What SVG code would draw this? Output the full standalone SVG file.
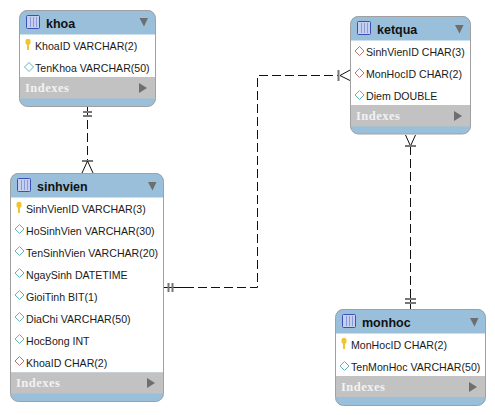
<svg xmlns="http://www.w3.org/2000/svg" width="495" height="415" viewBox="0 0 495 415">
<style>
text{font-family:"Liberation Sans",Arial,sans-serif;font-size:10.600px;fill:#1a1a1a}
.t{font-size:12.500px;font-weight:bold;fill:#111}
.i{font-family:"Liberation Serif",serif;font-size:12.500px;font-weight:bold;fill:#f2f2f2;letter-spacing:.5px}
.card{fill:#99bfda}
.edge{fill:none;stroke:#a0a0a0;stroke-width:1}
.body{fill:#fff}
.idx{fill:#c2c2c2}
.ic{fill:#c4d0ee;stroke:#3b4fb5}
.tri{fill:#6e6e6e}
.d{fill:#fff;stroke:#63b5b5;stroke-width:1}
.r{fill:#fff;stroke:#b87474;stroke-width:1}
.k{fill:#f2c430}
.c{fill:none;stroke:#111;stroke-width:1}
.b{fill:none;stroke:#777;stroke-width:2}
.dash{stroke-dasharray:9 4}
</style>
<defs>
<g id="tbl"><rect x="0.5" y="0.5" width="13" height="13" rx="1" class="ic"/><path d="M4.500 2v10M7.500 2v10M10.500 2v10" stroke="#8a9ad8" fill="none"/></g>
<path id="dm" d="M0-4.500L4.500 0L0 4.500L-4.500 0Z"/>
<path id="key" d="M-1.500-6h3l1 1.500v3l-1.500 1.500v5h-2v-5l-1.500-1.500v-3Z"/>
</defs>
<g id="connectors">
<path class="c dash" d="M87.500 107V161"/>
<path class="b" d="M83 112H92M83 116H92M82 161H93"/>
<path class="c" d="M87.500 161L82 173M87.500 161L93 173"/>
<path class="c dash" d="M185 287.500H257.500V75.500H338"/>
<path class="c" d="M164 287.500H185M340 75.500L351 69.500M340 75.500L351 81"/>
<path class="b" d="M168.500 283V292M172.500 283V292M338.500 70V81"/>
<path class="c dash" d="M410.500 146V299"/>
<path class="c" d="M410.500 146L405.500 135M410.500 146L415.500 135M410.500 299V309"/>
<path class="b" d="M405 146H416M405 299H416M405 303H416"/>
</g>
<g id="khoa">
<rect class="card" x="19.500" y="10" width="136" height="96.500" rx="8"/>
<rect class="body" x="19.500" y="34.500" width="136" height="42.500"/>
<rect class="idx" x="19.500" y="77" width="136" height="21.500"/>
<rect class="edge" x="19.500" y="10.500" width="136" height="96" rx="8"/>
<use href="#tbl" x="26" y="15"/><text class="t" x="46" y="28">khoa</text>
<path class="tri" d="M139.500 18h8.500l-4 8.500Z"/>
<use href="#key" class="k" x="28" y="45"/><text x="35" y="50">KhoaID VARCHAR(2)</text>
<use href="#dm" class="d" x="29" y="67"/><text x="35" y="72">TenKhoa VARCHAR(50)</text>
<text class="i" x="25" y="92">Indexes</text><path class="tri" d="M139 83l8 5l-8 5Z"/>
</g>
<g id="ketqua">
<rect class="card" x="350.500" y="16" width="120" height="118" rx="8"/>
<rect class="body" x="350.500" y="40.500" width="120" height="64.500"/>
<rect class="idx" x="350.500" y="105" width="120" height="21.500"/>
<rect class="edge" x="350.500" y="16.500" width="120" height="117.500" rx="8"/>
<use href="#tbl" x="357" y="21"/><text class="t" x="377" y="34">ketqua</text>
<path class="tri" d="M455 25h8.500l-4 8.500Z"/>
<use href="#dm" class="r" x="359.500" y="51"/><text x="366" y="56">SinhVienID CHAR(3)</text>
<use href="#dm" class="r" x="359.500" y="73"/><text x="366" y="78">MonHocID CHAR(2)</text>
<use href="#dm" class="d" x="359.500" y="95"/><text x="366" y="100">Diem DOUBLE</text>
<text class="i" x="356" y="120">Indexes</text><path class="tri" d="M454 111l8 5l-8 5Z"/>
</g>
<g id="sinhvien">
<rect class="card" x="10.500" y="173" width="153" height="228.500" rx="8"/>
<rect class="body" x="10.500" y="197.500" width="153" height="175"/>
<rect class="idx" x="10.500" y="372.500" width="153" height="21"/>
<rect class="edge" x="10.500" y="173.500" width="153" height="228" rx="8"/>
<use href="#tbl" x="17" y="178"/><text class="t" x="37" y="191">sinhvien</text>
<path class="tri" d="M148 182h8.500l-4 8.500Z"/>
<use href="#key" class="k" x="19" y="208"/><text x="26" y="213">SinhVienID VARCHAR(3)</text>
<use href="#dm" class="d" x="19.500" y="229"/><text x="26" y="235">HoSinhVien VARCHAR(30)</text>
<use href="#dm" class="d" x="19.500" y="251"/><text x="26" y="257">TenSinhVien VARCHAR(20)</text>
<use href="#dm" class="d" x="19.500" y="273"/><text x="26" y="279">NgaySinh DATETIME</text>
<use href="#dm" class="d" x="19.500" y="295"/><text x="26" y="301">GioiTinh BIT(1)</text>
<use href="#dm" class="d" x="19.500" y="317"/><text x="26" y="323">DiaChi VARCHAR(50)</text>
<use href="#dm" class="d" x="19.500" y="339"/><text x="26" y="345">HocBong INT</text>
<use href="#dm" class="r" x="19.500" y="361"/><text x="26" y="367">KhoaID CHAR(2)</text>
<text class="i" x="16" y="387">Indexes</text><path class="tri" d="M147 378l8 5l-8 5Z"/>
</g>
<g id="monhoc">
<rect class="card" x="335.500" y="309" width="150" height="96.500" rx="8"/>
<rect class="body" x="335.500" y="333.500" width="150" height="42.500"/>
<rect class="idx" x="335.500" y="376" width="150" height="21"/>
<rect class="edge" x="335.500" y="309.500" width="150" height="96" rx="8"/>
<use href="#tbl" x="342" y="314"/><text class="t" x="362" y="327">monhoc</text>
<path class="tri" d="M470 318h8.500l-4 8.500Z"/>
<use href="#key" class="k" x="344" y="344"/><text x="351" y="349">MonHocID CHAR(2)</text>
<use href="#dm" class="d" x="344.500" y="366"/><text x="351" y="371">TenMonHoc VARCHAR(50)</text>
<text class="i" x="341" y="391">Indexes</text><path class="tri" d="M469 382l8 5l-8 5Z"/>
</g>
</svg>
